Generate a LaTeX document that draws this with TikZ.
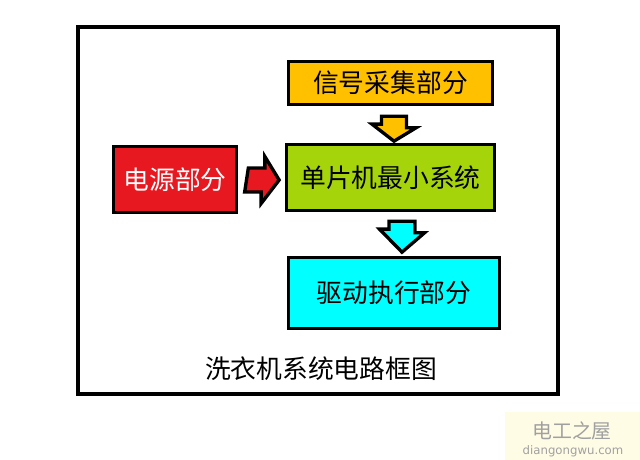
\documentclass[tikz,border=0pt]{standalone}
\usepackage{fontspec}
\setmainfont{Noto Sans CJK SC}
\newfontfamily\wmfont{DejaVu Sans}
\usepackage{tikz}
\usetikzlibrary{calc}
\definecolor{sigcol}{RGB}{255,192,0}
\definecolor{mcucol}{RGB}{166,212,10}
\definecolor{pwrcol}{RGB}{232,24,32}
\definecolor{drvcol}{RGB}{0,255,255}
\definecolor{wmback}{RGB}{255,252,230}
\definecolor{wmtext}{RGB}{160,160,160}

\begin{document}
\begin{tikzpicture}[x=0.03cm, y=-0.03cm,
	blok/.style={draw=black, line width=0.11cm, inner sep=0pt, font=\fontsize{22}{26}\selectfont},
	fatarrow/.style={draw=black, line width=0.1cm, line join=miter}]
	\useasboundingbox (0,0) rectangle (640,460);
	\fill[white] (0,0) rectangle (640,460);
	\draw[line width=0.12cm] (78,27) rectangle (557.5,394.5);
	% boxes
	\node[blok, fill=sigcol, minimum width=6.12cm, minimum height=1.29cm] (sig) at (390.5,83) {信号采集部分};
	\node[blok, fill=mcucol, minimum width=6.24cm, minimum height=1.98cm] (mcu) at (390.5,177.5) {单片机最小系统};
	\node[blok, fill=pwrcol, text=white, minimum width=3.69cm, minimum height=1.98cm] (pwr) at (175,179.5) {电源部分};
	\node[blok, fill=drvcol, minimum width=6.33cm, minimum height=2.13cm] (drv) at (394,293) {驱动执行部分};
	% arrows
	\draw[fatarrow, fill=sigcol] ($(sig.south)+(-9,10)$) -- ++(25,0) -- ++(0,11.5) -- ++(9.5,0)
		-- ($(mcu.north)+(3.5,-1.5)$) -- ++(-22,-17) -- ++(9.5,0) -- cycle;
	\draw[fatarrow, fill=drvcol] ($(mcu.south)+(-1.5,9)$) -- ++(26,0) -- ++(0,11.5) -- ++(9.5,0)
		-- ($(drv.north)+(8,-3.5)$) -- ++(-22.5,-23) -- ++(9.5,0) -- cycle;
	\draw[fatarrow, fill=pwrcol] ($(pwr.east)+(10,-11.5)$) -- ++(16.5,0) -- ++(0,-11.5)
		-- ($(mcu.west)+(-5.5,2.5)$) -- ++(-18,23.5) -- ++(0,-11.5) -- ++(-16.5,0) -- cycle;
	% title
	\node[font=\fontsize{22}{26}\selectfont] (title) at (321,369) {洗衣机系统电路框图};
	% watermark
	\fill[wmback] (505,412) rectangle (640,460);
	\node[text=wmtext, font=\fontsize{17}{20}\selectfont] (wm) at (572,431) {电工之屋};
	\node[text=wmtext, font=\wmfont\fontsize{10}{12}\selectfont] (wmurl) at (573,451) {diangongwu.com};
\end{tikzpicture}
\end{document}
